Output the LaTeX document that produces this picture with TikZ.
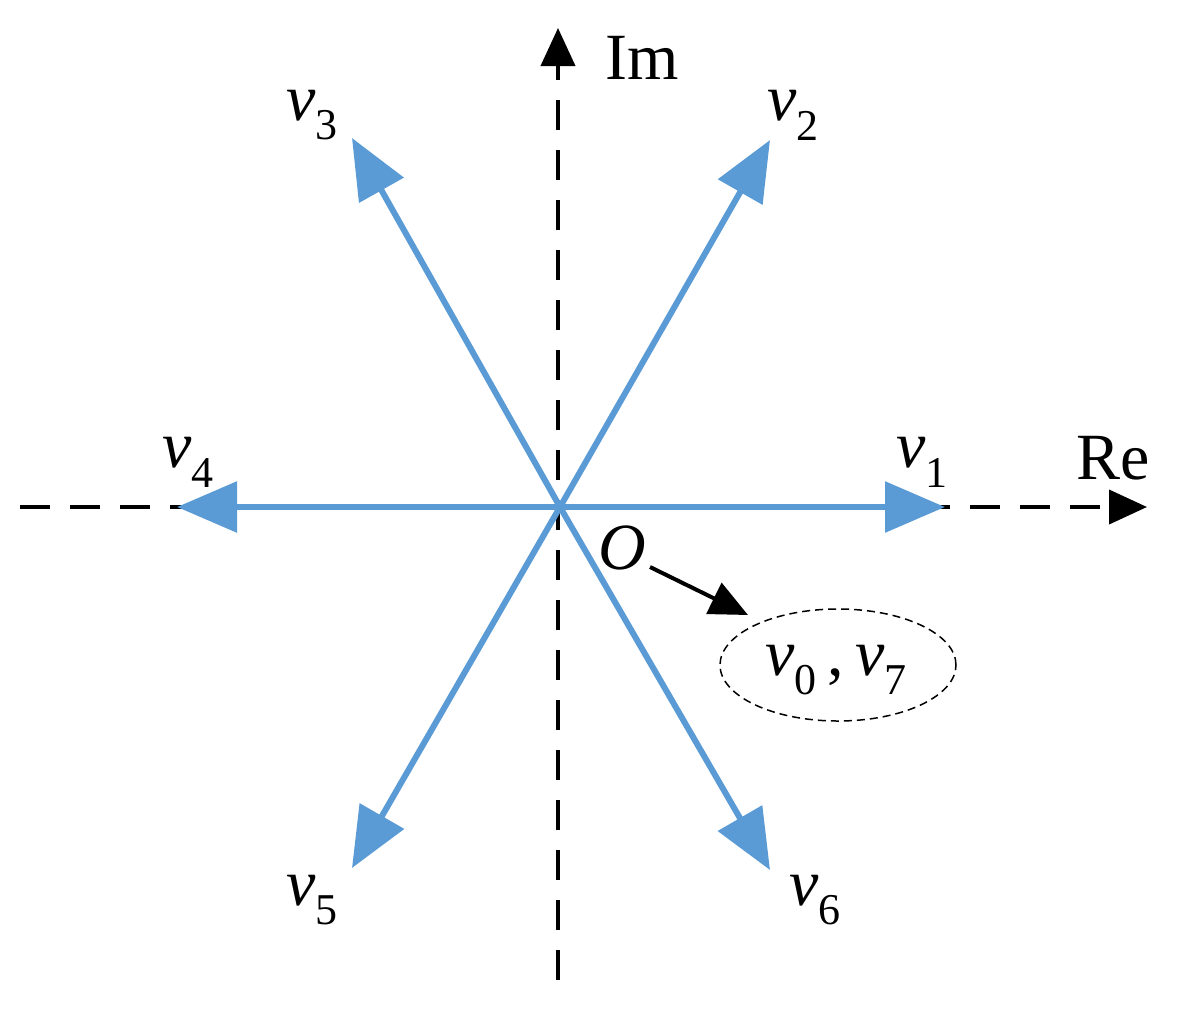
\documentclass[tikz,border=0pt]{standalone}
\usepackage{fontspec}
\setmainfont{Liberation Serif}
\usetikzlibrary{arrows.meta,shapes.geometric}
\definecolor{vblue}{RGB}{91,155,213}
\newcommand{\vsub}[1]{{\itshape v}\raisebox{-0.3em}{\fontsize{44}{44}\selectfont #1}}
\begin{document}
\begin{tikzpicture}[x=1pt,y=-1pt,
  vec/.style={vblue,line width=6pt,-{Triangle[length=60pt,width=50pt]}},
  axis/.style={black,line width=4pt,dash pattern=on 30pt off 20pt,-{Triangle[length=38pt,width=34pt]}},
  lbl/.style={font=\fontsize{66}{66}\selectfont,inner sep=0pt}]
\useasboundingbox (0,0) rectangle (1183,1021);
\coordinate (O) at (560,507);
\coordinate (imS) at (558,980); \coordinate (imE) at (558,28);
\coordinate (reS) at (20,507); \coordinate (reE) at (1147,507);
\draw[axis] (imS) -- (imE);
\draw[axis] (reS) -- (reE);
\coordinate (t1) at (945,507); \coordinate (t2) at (770,140);
\coordinate (t3) at (352,138); \coordinate (t4) at (177,507);
\coordinate (t5) at (352,868); \coordinate (t6) at (770,870);
\foreach \t in {t1,t2,t3,t4,t5,t6} \draw[vec] (O) -- (\t);
\node[lbl] (Im) at (642,58) {Im};
\node[lbl] (Re) at (1113,458) {Re};
\node[lbl] (l1) at (922,462) {\vsub{1}};
\node[lbl] (l2) at (793,115) {\vsub{2}};
\node[lbl] (l3) at (312,115) {\vsub{3}};
\node[lbl] (l4) at (188,462) {\vsub{4}};
\node[lbl] (l5) at (312,900) {\vsub{5}};
\node[lbl] (l6) at (815,900) {\vsub{6}};
\node[lbl] (Ol) at (622,548) {\itshape O};
\node[draw,dash pattern=on 8pt off 5pt,line width=1.5pt,ellipse,minimum width=236pt,minimum height=112pt,inner sep=0pt] (E) at (838,665) {};
\node[lbl] (v07) at (836,670) {\vsub{0}\,,\,\vsub{7}};
\coordinate (os) at (650,567); \coordinate (oe) at (748,615);
\draw[black,line width=4pt,-{Triangle[length=38pt,width=34pt]}] (os) -- (oe);
\end{tikzpicture}
\end{document}
